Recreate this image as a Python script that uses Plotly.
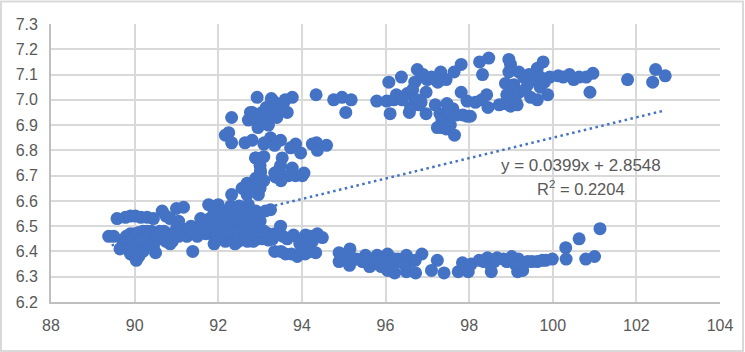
import plotly.graph_objects as go

lower_left_x = [89.38,89.5,89.58,89.78,89.9,90.02,90.15,90.3,90.45,90.66,90.75,90.85,91.0,91.17,91.05,
 89.65,89.72,89.78,89.85,89.9,89.95,90.0,90.04,90.1,90.15,90.2,90.25,89.8,89.9,90.0,90.1,90.2,90.3,90.4,90.5,90.6,90.7,90.8,
 90.35,90.45,90.5,90.6,90.75,90.85,90.95,91.05,91.15,91.25,91.39,91.35,91.45,91.5,91.58,91.6,91.7,91.77,91.8,91.9,92.0,
 91.9,91.95,92.05,92.17,92.3,92.4,92.48,92.6,92.7,92.84,92.95,93.05,93.2,93.3,
 91.65,91.75,91.9,92.0,92.1,92.25,92.35,92.5,92.6,92.7,92.8,92.9,93.0,93.1,93.2,93.35,93.49,93.42,
 92.35,92.45,92.6,92.72,92.89,92.0,92.1,92.3,92.5,92.65,92.8,92.9,93.13,93.25,
 93.55,93.65,93.8,93.95,94.09,94.2,94.37,94.49,94.25,94.1,93.95,
 93.35,93.5,93.61,93.75,93.89,94.0,94.08,94.2,94.33,
 89.95,90.05,90.15,90.25,90.35,90.45,90.55,90.7,90.9,91.0,91.1,91.2,91.3,91.55,91.7,91.85,92.0,92.15,92.3,92.45,92.6,92.75,
 91.9,92.05,92.2,92.4,92.55,92.7,92.85,93.0,92.2,92.1,91.95]
lower_left_y = [6.46,6.46,6.53,6.535,6.54,6.54,6.535,6.535,6.53,6.56,6.54,6.53,6.57,6.575,6.52,
 6.41,6.43,6.45,6.41,6.39,6.42,6.38,6.365,6.38,6.41,6.4,6.43,6.46,6.47,6.47,6.475,6.48,6.48,6.48,6.47,6.48,6.48,6.47,
 6.44,6.42,6.395,6.45,6.44,6.43,6.47,6.46,6.49,6.46,6.4,6.5,6.47,6.46,6.53,6.5,6.47,6.585,6.53,6.43,6.585,
 6.46,6.48,6.45,6.44,6.45,6.43,6.44,6.45,6.44,6.44,6.45,6.45,6.445,6.45,
 6.5,6.52,6.54,6.5,6.49,6.55,6.5,6.52,6.48,6.5,6.47,6.48,6.48,6.48,6.47,6.47,6.5,6.47,
 6.56,6.54,6.56,6.585,6.54,6.53,6.56,6.58,6.58,6.55,6.53,6.56,6.56,6.565,
 6.46,6.45,6.465,6.44,6.465,6.46,6.47,6.455,6.44,6.42,6.43,
 6.4,6.4,6.39,6.39,6.38,6.41,6.39,6.4,6.395,
 6.44,6.43,6.44,6.45,6.46,6.44,6.46,6.46,6.44,6.49,6.48,6.47,6.49,6.49,6.49,6.5,6.47,6.5,6.48,6.49,6.5,6.48,
 6.56,6.52,6.53,6.53,6.53,6.53,6.51,6.52,6.47,6.46,6.47]

upper_mid_x = [92.32,92.25,92.17,92.32,92.64,92.77,92.72,92.81,92.93,93.27,93.77,93.6,93.65,92.85,92.95,93.05,93.15,93.25,93.35,93.45,93.55,93.1,93.2,93.3,93.4,93.5,92.95,
 92.81,93.25,93.09,93.49,93.85,93.73,93.97,94.25,94.35,94.59,94.37,92.9,93.1,93.35,
 93.09,92.89,93.0,93.53,93.49,93.77,94.05,93.44,93.01,93.55,93.85,
 93.01,93.37,93.68,94.01,93.09,92.69,92.57,92.32,92.96,92.69,93.0,92.85,92.9,92.75,93.35,93.5]
upper_mid_y = [6.93,6.87,6.86,6.83,6.83,6.95,6.92,6.95,7.01,7.005,7.01,7.0,6.95,6.93,6.91,6.95,6.97,6.98,6.99,6.95,6.98,6.92,6.9,6.95,6.93,6.96,6.89,
 6.84,6.85,6.825,6.84,6.825,6.81,6.79,6.825,6.83,6.82,6.8,6.77,6.83,6.82,
 6.775,6.77,6.74,6.77,6.74,6.73,6.71,6.72,6.72,6.7,6.7,
 6.71,6.695,6.7,6.7,6.68,6.67,6.65,6.625,6.625,6.625,6.65,6.66,6.69,6.64,6.71,6.68]

upper_right_x = [94.34,94.76,94.96,95.18,95.05,95.79,96.03,96.08,96.38,96.76,96.7,96.85,97.0,97.1,97.32,97.25,97.45,97.64,97.81,98.25,98.47,98.32,97.81,
 96.26,96.52,96.7,96.8,96.11,96.57,96.97,96.97,96.6,97.19,97.47,97.61,97.3,97.35,97.55,97.7,97.95,98.03,97.24,97.35,97.45,97.55,97.65,
 97.95,98.15,98.42,98.3,98.45,98.72,98.85,98.99,99.02,99.15,98.95,98.99,98.95,99.19,98.87,99.07,99.2,99.34,99.43,99.47,99.63,99.7,99.63,99.77,99.88,99.55,
 99.93,100.13,100.25,100.4,100.5,100.63,100.8,100.96,100.89,101.79,102.46,102.69,102.39,
 96.2,96.4,96.9,97.5,97.4,97.85,96.65,96.75,96.85,99.3,99.4,99.55,99.7,99.8,99.05,98.9,99.1]
upper_right_y = [7.02,7.0,7.01,7.0,6.95,6.995,6.995,7.07,7.09,7.12,7.07,7.09,7.08,7.09,7.11,7.07,7.08,7.11,7.14,7.15,7.165,7.1,7.03,
 7.02,7.025,7.0,6.98,6.945,6.95,6.945,7.03,6.97,6.98,6.985,6.965,6.945,6.92,6.93,6.94,6.935,6.935,6.89,6.89,6.885,6.9,6.86,
 6.995,6.99,7.02,7.0,6.97,6.98,6.985,6.975,7.02,6.98,7.16,7.14,7.11,7.11,7.065,7.06,7.03,7.04,7.1,7.01,7.0,7.05,7.125,7.15,7.02,7.08,
 7.09,7.095,7.09,7.1,7.08,7.09,7.09,7.105,7.03,7.08,7.12,7.095,7.07,
 7.0,7.0,7.1,6.96,6.9,6.94,7.04,7.0,6.99,7.09,7.06,7.1,7.09,7.07,7.0,7.02,7.0]

lower_right_x = [94.89,94.89,95.15,95.14,95.3,95.45,95.52,95.52,95.62,95.7,95.8,95.8,95.9,96.05,96.05,95.95,96.22,96.22,96.15,96.35,96.5,96.5,96.6,96.72,96.87,96.71,
 97.24,97.1,97.4,97.74,97.98,97.84,98.05,98.24,98.44,98.35,98.53,98.5,98.67,98.66,98.82,99.02,99.18,99.16,99.28,
 99.5,99.63,99.83,99.99,100.31,100.32,100.63,100.79,101.0,101.13,
 95.6,95.75,95.9,96.0,96.1,96.2,96.3,96.45,95.0,95.25,98.6,98.9,99.1,99.4,99.75]
lower_right_y = [6.395,6.36,6.41,6.345,6.37,6.36,6.385,6.36,6.34,6.37,6.385,6.35,6.34,6.39,6.325,6.37,6.315,6.37,6.34,6.36,6.385,6.32,6.36,6.315,6.39,6.365,
 6.365,6.325,6.315,6.32,6.32,6.355,6.35,6.365,6.375,6.36,6.32,6.35,6.375,6.37,6.37,6.38,6.37,6.32,6.325,
 6.36,6.36,6.365,6.37,6.415,6.37,6.45,6.37,6.38,6.49,
 6.37,6.36,6.36,6.36,6.35,6.35,6.37,6.35,6.38,6.37,6.36,6.36,6.35,6.36,6.365]

trend_x = [89.45, 102.68]
trend_y = [6.424, 6.958]
x_ticks = [88,90,92,94,96,98,100,102,104]
y_ticks = [6.2,6.3,6.4,6.5,6.6,6.7,6.8,6.9,7.0,7.1,7.2,7.3]
equation = "y = 0.0399x + 2.8548"
r_squared = "R<sup>2</sup> = 0.2204"

BLUE = "#4472C4"
GRID = "#D9D9D9"
TEXT = "#595959"
FONT = "Liberation Sans"

fig = go.Figure()
fig.add_trace(go.Scatter(x=trend_x, y=trend_y, mode="lines", hoverinfo="skip",
    line=dict(color=BLUE, width=2.5, dash="2.5px 3.5px")))
fig.add_trace(go.Scatter(x=lower_left_x + upper_mid_x + upper_right_x + lower_right_x,
    y=lower_left_y + upper_mid_y + upper_right_y + lower_right_y, mode="markers",
    marker=dict(color=BLUE, size=13, line=dict(width=0))))

axis = dict(showgrid=True, gridcolor=GRID, gridwidth=1.8, zeroline=False, showline=True,
    linecolor="#BFBFBF", linewidth=1.8, ticks="", tickfont=dict(family=FONT, size=16, color=TEXT))
fig.update_layout(
    width=745, height=352, autosize=False, showlegend=False,
    paper_bgcolor="white", plot_bgcolor="white",
    font=dict(family=FONT, size=16, color=TEXT),
    margin=dict(l=51, r=25, t=23.5, b=50),
    xaxis=dict(axis, range=[88,104], tickvals=x_ticks, ticktext=[str(v) for v in x_ticks], ticklabelstandoff=8),
    yaxis=dict(axis, range=[6.2,7.3], tickvals=y_ticks, ticktext=[f"{v:.1f}" for v in y_ticks], ticklabelstandoff=8),
    annotations=[
        dict(x=100.68, y=6.74, xref="x", yref="y", text=equation, showarrow=False, xanchor="center",
             font=dict(family=FONT, size=17, color=TEXT)),
        dict(x=100.68, y=6.652, xref="x", yref="y", text=r_squared, showarrow=False, xanchor="center",
             font=dict(family=FONT, size=16.5, color=TEXT)),
    ],
    shapes=[dict(type="rect", xref="paper", yref="paper", x0=-50/669, x1=(669+23)/669, y0=-49/278.5, y1=(278.5+22.5)/278.5,
                 line=dict(color=GRID, width=2), fillcolor="rgba(0,0,0,0)", layer="below")],
)
fig.write_html("out.html", config={"displayModeBar": False},
    post_script="document.body.style.margin='0';document.body.style.overflow='hidden';")
